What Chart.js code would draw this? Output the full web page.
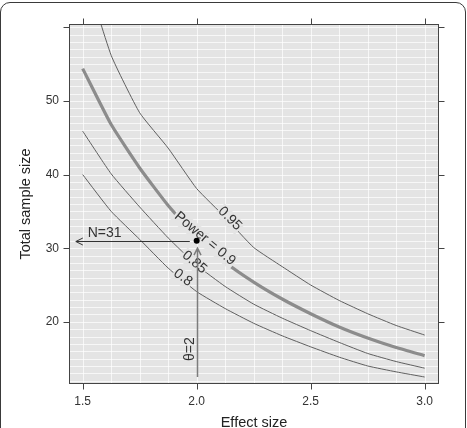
<!DOCTYPE html>
<html>
<head>
<meta charset="utf-8">
<script src="https://cdn.jsdelivr.net/npm/chart.js@4.4.1/dist/chart.umd.min.js"></script>
<style>
  html, body { margin: 0; padding: 0; background: #fff; }
  #wrap { position: relative; width: 467px; height: 428px; overflow: hidden; }
  #wrap canvas { position: absolute; left: 0; top: 0; }
  #frame {
    position: absolute; left: 0; top: 2px; width: 466px; height: 470px;
    box-sizing: border-box; border: 1.5px solid #3a3a3a; border-radius: 10px;
    pointer-events: none;
  }
</style>
</head>
<body>
<div id="wrap">
  <canvas id="chart" width="467" height="428"></canvas>
  <div id="frame"></div>
</div>
<script>
const effectSize = [1.5, 1.625, 1.75, 1.875, 2.0, 2.125, 2.25, 2.375, 2.5, 2.625, 2.75, 2.875, 3.0];

// total sample size for each power level
const power95 = [68.5, 56.2, 48.4, 43.6, 38.1, 34.2, 30.1, 27.5, 25.0, 22.9, 21.1, 19.5, 18.2];
const power90 = [54.4, 46.8, 40.9, 35.8, 31.5, 28.1, 25.4, 23.1, 21.1, 19.3, 17.8, 16.5, 15.4];
const power85 = [45.9, 40.1, 35.6, 31.4, 27.7, 24.8, 22.4, 20.5, 18.8, 17.2, 15.7, 14.6, 13.7];
const power80 = [40.0, 35.0, 31.2, 27.3, 24.1, 21.8, 19.8, 18.1, 16.6, 15.2, 14.0, 13.2, 12.5];

// axis ticks
const xTicks = [1.5, 2.0, 2.5, 3.0];
const yTicks = [20, 30, 40, 50, 60];

// design point and the two arrows
const designPoint = { x: 2.0, y: 31 };
const nArrow = { y: 31, from: 1.97, to: 1.47, label: "N=31", labelX: 1.596, labelY: 32.1 };
const thetaArrow = { x: 2.0, from: 12.5, to: 30.0, label: "\u03b8=2", labelX: 1.97, labelY: 16.3 };

// curve labels
const curveLabels = ["0.95", "Power = 0.9", "0.85", "0.8"];
const curveLabelX = [2.146, 2.036, 1.99, 1.94];
const curveLabelY = [34.0, 31.3, 28.1, 26.0];
const curveLabelAngle = [45, 40, 40, 36];

const FONT = '"Liberation Sans", Arial, Helvetica, sans-serif';
const PANEL = "#e4e4e4";

function toPoints(ys) {
  return effectSize.map((x, i) => ({ x: x, y: ys[i] }));
}

function curve(ys, width, color) {
  return {
    data: toPoints(ys),
    borderColor: color,
    borderWidth: width,
    pointRadius: 0,
    fill: false,
    tension: 0.15,
    borderJoinStyle: "round"
  };
}

const panelPlugin = {
  id: "panel",
  beforeDatasetsDraw(chart) {
    const { ctx, chartArea: a, scales: { x, y } } = chart;
    ctx.save();
    ctx.fillStyle = PANEL;
    ctx.fillRect(a.left, a.top, a.width, a.height);
    ctx.strokeStyle = "rgba(255,255,255,0.7)";
    ctx.lineWidth = 1;
    ctx.beginPath();
    for (let v = 12; v <= 60; v++) {
      const py = Math.round(y.getPixelForValue(v)) + 0.5;
      ctx.moveTo(a.left, py);
      ctx.lineTo(a.right, py);
    }
    for (let v = 1.5; v <= 3.0001; v += 0.125) {
      const px = Math.round(x.getPixelForValue(v)) + 0.5;
      ctx.moveTo(px, a.top);
      ctx.lineTo(px, a.bottom);
    }
    ctx.stroke();
    ctx.restore();
  },
  afterDatasetDraw(chart, args) {
    if (args.index !== 1) return;
    const { ctx, chartArea: a, scales: { x, y } } = chart;
    ctx.save();
    ctx.beginPath();
    ctx.rect(a.left, a.top, a.width, a.height);
    ctx.clip();

    // labels sitting on the curves
    ctx.font = "14px " + FONT;
    ctx.textAlign = "center";
    ctx.textBaseline = "middle";
    curveLabels.forEach((t, i) => {
      ctx.save();
      ctx.translate(x.getPixelForValue(curveLabelX[i]), y.getPixelForValue(curveLabelY[i]));
      ctx.rotate(curveLabelAngle[i] * Math.PI / 180);
      const w = ctx.measureText(t).width;
      ctx.fillStyle = PANEL;
      ctx.fillRect(-w / 2 - 1, -7, w + 2, 15);
      ctx.fillStyle = "#333";
      ctx.fillText(t, 0, 0);
      ctx.restore();
    });

    // horizontal arrow N=31
    const hy = Math.round(y.getPixelForValue(nArrow.y)) + 0.5;
    const hx0 = x.getPixelForValue(nArrow.from);
    const hx1 = x.getPixelForValue(nArrow.to);
    ctx.strokeStyle = "#333";
    ctx.lineWidth = 1;
    ctx.beginPath();
    ctx.moveTo(hx0, hy);
    ctx.lineTo(hx1, hy);
    ctx.moveTo(hx1 + 7, hy - 3.5);
    ctx.lineTo(hx1, hy);
    ctx.lineTo(hx1 + 7, hy + 3.5);
    ctx.stroke();
    ctx.fillStyle = "#333";
    ctx.fillText(nArrow.label, x.getPixelForValue(nArrow.labelX), y.getPixelForValue(nArrow.labelY));

    // vertical arrow theta=2
    const vx = Math.round(x.getPixelForValue(thetaArrow.x)) + 0.5;
    const vy0 = y.getPixelForValue(thetaArrow.from);
    const vy1 = y.getPixelForValue(thetaArrow.to);
    ctx.strokeStyle = "#7c7c7c";
    ctx.lineWidth = 1.5;
    ctx.beginPath();
    ctx.moveTo(vx, vy0);
    ctx.lineTo(vx, vy1);
    ctx.moveTo(vx - 3.5, vy1 + 7);
    ctx.lineTo(vx, vy1);
    ctx.lineTo(vx + 3.5, vy1 + 7);
    ctx.stroke();
    ctx.save();
    ctx.translate(x.getPixelForValue(thetaArrow.labelX), y.getPixelForValue(thetaArrow.labelY));
    ctx.rotate(-Math.PI / 2);
    ctx.fillStyle = "#333";
    ctx.fillText(thetaArrow.label, 0, 0);
    ctx.restore();

    ctx.restore();
  },
  afterDraw(chart) {
    const { ctx, chartArea: a, scales: { x, y } } = chart;
    const L = Math.round(a.left) + 0.5, R = Math.round(a.right) - 0.5;
    const T = Math.round(a.top) + 0.5, B = Math.round(a.bottom) - 0.5;
    ctx.save();
    ctx.strokeStyle = "#444";
    ctx.lineWidth = 1;
    ctx.strokeRect(L, T, R - L, B - T);
    ctx.beginPath();
    xTicks.forEach(v => {
      const px = Math.round(x.getPixelForValue(v)) + 0.5;
      ctx.moveTo(px, B); ctx.lineTo(px, B + 6);
      ctx.moveTo(px, T); ctx.lineTo(px, T - 6);
    });
    yTicks.forEach(v => {
      const py = Math.round(y.getPixelForValue(v)) + 0.5;
      ctx.moveTo(L, py); ctx.lineTo(L - 6, py);
      ctx.moveTo(R, py); ctx.lineTo(R + 6, py);
    });
    ctx.stroke();
    ctx.restore();
  }
};

new Chart(document.getElementById("chart"), {
  type: "line",
  data: {
    datasets: [
      {
        data: [designPoint],
        showLine: false,
        pointRadius: 3,
        pointBackgroundColor: "#000",
        pointBorderColor: "#000",
        pointBorderWidth: 0
      },
      curve(power90, 3.2, "#8c8c8c"),
      curve(power95, 1, "#606060"),
      curve(power85, 1, "#606060"),
      curve(power80, 1, "#606060")
    ]
  },
  options: {
    responsive: false,
    animation: false,
    devicePixelRatio: 1,
    layout: { padding: { left: 0, right: 28, top: 24, bottom: 0 } },
    plugins: {
      legend: { display: false },
      tooltip: { enabled: false }
    },
    scales: {
      x: {
        type: "linear",
        min: 1.44,
        max: 3.063,
        afterBuildTicks: scale => { scale.ticks = xTicks.map(v => ({ value: v })); },
        afterFit: scale => { scale.height = 44; },
        grid: { display: false, drawTicks: false },
        border: { display: false },
        ticks: {
          padding: 10,
          color: "#333",
          font: { family: FONT, size: 12 },
          callback: v => v.toFixed(1)
        },
        title: {
          display: true,
          text: "Effect size",
          color: "#222",
          font: { family: FONT, size: 14.5 },
          padding: { top: 0, bottom: -4 }
        }
      },
      y: {
        type: "linear",
        min: 11.55,
        max: 60.46,
        afterBuildTicks: scale => { scale.ticks = yTicks.map(v => ({ value: v })); },
        afterFit: scale => { scale.width = 69; },
        grid: { display: false, drawTicks: false },
        border: { display: false },
        ticks: {
          padding: 10,
          color: "#333",
          font: { family: FONT, size: 12 },
          callback: v => (v >= 60 ? "" : v)
        },
        title: {
          display: true,
          text: "Total sample size",
          color: "#222",
          font: { family: FONT, size: 14.5 },
          padding: { top: 17, bottom: 0 }
        }
      }
    }
  },
  plugins: [panelPlugin]
});
</script>
</body>
</html>
